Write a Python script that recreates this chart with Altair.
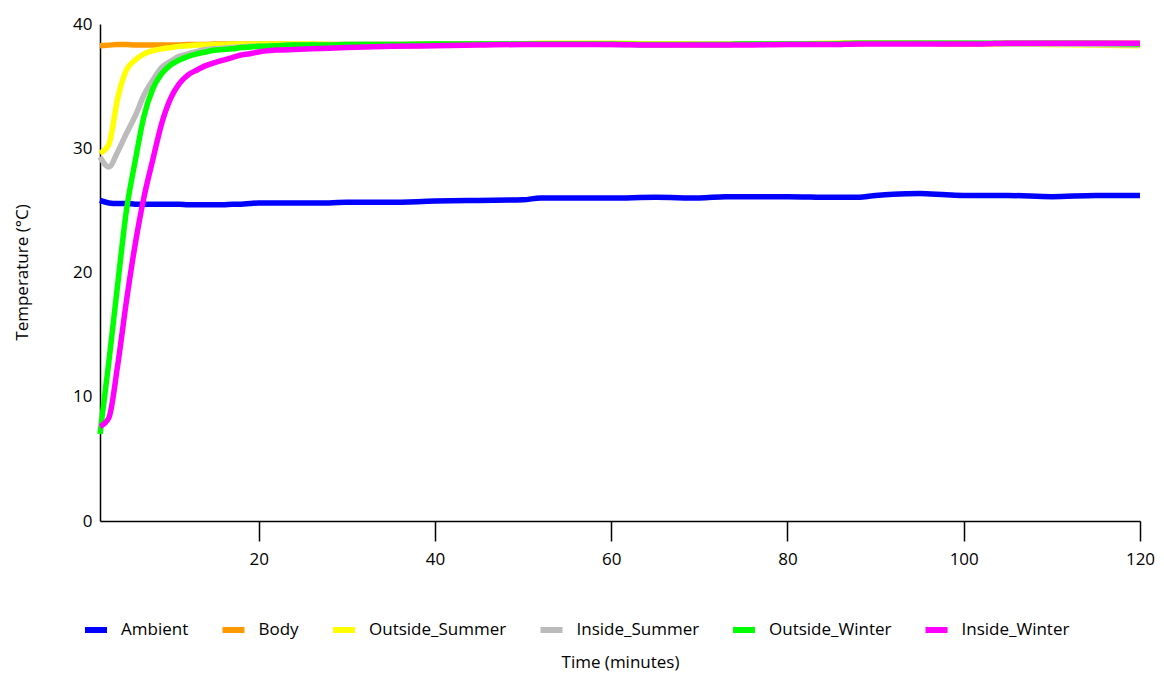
import altair as alt
import pandas as pd

minutes = [2, 3, 4, 5, 6, 7, 8, 9, 10, 11, 12, 13, 14, 15, 16, 17, 18, 19, 20,
           22, 24, 26, 28, 30, 35, 40, 45, 50, 52, 55, 60, 65, 70,
           73, 75, 80, 85, 88, 90, 92, 95, 98, 100, 102, 105, 110, 115, 120]

ambient = [25.8, 25.6, 25.55, 25.55, 25.5, 25.5, 25.5, 25.5, 25.5, 25.5, 25.45, 25.45, 25.45, 25.45, 25.45, 25.5, 25.5, 25.55, 25.6,
           25.6, 25.6, 25.6, 25.6, 25.65, 25.65, 25.75, 25.8, 25.85, 26.0, 26.0, 26.0, 26.05, 26.0,
           26.1, 26.1, 26.1, 26.05, 26.05, 26.2, 26.3, 26.35, 26.25, 26.2, 26.2, 26.2, 26.1, 26.2, 26.2]

body = [38.25, 38.3, 38.35, 38.35, 38.3, 38.3, 38.3, 38.3, 38.3, 38.3, 38.35, 38.35, 38.35, 38.4, 38.4, 38.4, 38.4, 38.4, 38.4,
        38.4, 38.35, 38.35, 38.35, 38.35, 38.35, 38.4, 38.4, 38.4, 38.4, 38.4, 38.4, 38.35, 38.35,
        38.35, 38.4, 38.4, 38.4, 38.4, 38.45, 38.45, 38.45, 38.4, 38.4, 38.4, 38.45, 38.45, 38.45, 38.45]

outside_summer = [29.6, 30.3, 34.0, 36.3, 37.1, 37.6, 37.85, 38.0, 38.1, 38.2, 38.25, 38.3, 38.3, 38.35, 38.35, 38.4, 38.4, 38.4, 38.4,
                  38.4, 38.4, 38.4, 38.35, 38.3, 38.25, 38.3, 38.35, 38.4, 38.45, 38.45, 38.45, 38.4, 38.4,
                  38.4, 38.4, 38.4, 38.45, 38.5, 38.5, 38.5, 38.45, 38.45, 38.45, 38.4, 38.4, 38.35, 38.3, 38.25]

inside_summer = [29.3, 28.5, 29.7, 31.2, 32.6, 34.3, 35.5, 36.5, 37.0, 37.4, 37.6, 37.8, 37.95, 38.0, 38.05, 38.1, 38.15, 38.2, 38.2,
                 38.25, 38.3, 38.3, 38.3, 38.35, 38.35, 38.35, 38.4, 38.4, 38.4, 38.4, 38.35, 38.3, 38.35,
                 38.35, 38.4, 38.4, 38.4, 38.45, 38.45, 38.45, 38.45, 38.45, 38.45, 38.45, 38.4, 38.4, 38.35, 38.3]

outside_winter = [7.0, 12.8, 19.0, 25.0, 29.0, 32.6, 34.8, 36.0, 36.7, 37.1, 37.4, 37.6, 37.75, 37.9, 37.95, 38.0, 38.1, 38.15, 38.2,
                  38.25, 38.3, 38.3, 38.3, 38.35, 38.35, 38.4, 38.4, 38.4, 38.4, 38.4, 38.4, 38.35, 38.35,
                  38.35, 38.4, 38.4, 38.4, 38.45, 38.45, 38.45, 38.45, 38.45, 38.45, 38.45, 38.45, 38.45, 38.45, 38.4]

inside_winter = [7.6, 8.3, 12.5, 17.7, 22.3, 26.1, 29.1, 32.0, 34.0, 35.2, 35.9, 36.3, 36.65, 36.9, 37.1, 37.3, 37.5, 37.6, 37.75,
                 37.9, 37.95, 38.0, 38.05, 38.1, 38.2, 38.25, 38.3, 38.35, 38.35, 38.35, 38.35, 38.3, 38.3,
                 38.3, 38.3, 38.35, 38.35, 38.4, 38.4, 38.4, 38.4, 38.4, 38.4, 38.4, 38.45, 38.45, 38.45, 38.45]

series_names = ["Ambient", "Body", "Outside_Summer", "Inside_Summer", "Outside_Winter", "Inside_Winter"]
series_colors = ["#0000FF", "#FF9900", "#FFFF00", "#BBBBBB", "#00FF00", "#FF00FF"]
series_values = [ambient, body, outside_summer, inside_summer, outside_winter, inside_winter]
x_ticks = [20, 40, 60, 80, 100, 120]
y_ticks = [0, 10, 20, 30, 40]

rows = []
for name, vals in zip(series_names, series_values):
    for m, v in zip(minutes, vals):
        rows.append({"Time": m, "Temperature": v, "Series": name})
df = pd.DataFrame(rows)

FONT = "Open Sans"

chart = alt.Chart(df).mark_line(strokeWidth=5.5, interpolate="monotone").encode(
    x=alt.X("Time:Q",
            scale=alt.Scale(domain=[2, 120], nice=False, zero=False),
            axis=alt.Axis(values=x_ticks, title="Time (minutes)", grid=False,
                          domainColor="black", domainWidth=1.5, tickColor="black",
                          tickWidth=1.5, tickSize=20, labelPadding=10, labelFlush=False,
                          labelFontSize=17, labelFont=FONT, labelColor="black",
                          titleFont=FONT, titleFontSize=17, titleFontWeight="normal",
                          titleColor="black", titleX=520, titleY=141,
                          titleBaseline="middle", titleAlign="center")),
    y=alt.Y("Temperature:Q",
            scale=alt.Scale(domain=[0, 40], nice=False),
            axis=alt.Axis(values=y_ticks, title="Temperature (°C)", grid=False,
                          domainColor="black", domainWidth=1.5, ticks=False,
                          labelPadding=8, labelFontSize=17, labelFont=FONT,
                          labelColor="black", titleFont=FONT, titleFontSize=17,
                          titleFontWeight="normal", titleColor="black",
                          titleX=-78, titleY=248, titleAngle=270,
                          titleBaseline="middle", titleAlign="center")),
    color=alt.Color("Series:N",
                    scale=alt.Scale(domain=series_names, range=series_colors),
                    sort=series_names,
                    legend=alt.Legend(title=None, orient="none", direction="horizontal",
                                      columns=6, legendX=-18, legendY=592,
                                      symbolType="stroke", symbolSize=484,
                                      symbolStrokeWidth=6, labelOffset=11,
                                      columnPadding=21.5, padding=0,
                                      labelFont=FONT, labelFontSize=17,
                                      labelColor="black")),
).properties(
    width=1040,
    height=497,
    autosize=alt.AutoSizeParams(type="none"),
    padding={"left": 92, "top": 16, "right": 16, "bottom": 150},
).configure_view(stroke=None)

chart.save("out.html", embed_options={"renderer": "svg", "actions": False})
